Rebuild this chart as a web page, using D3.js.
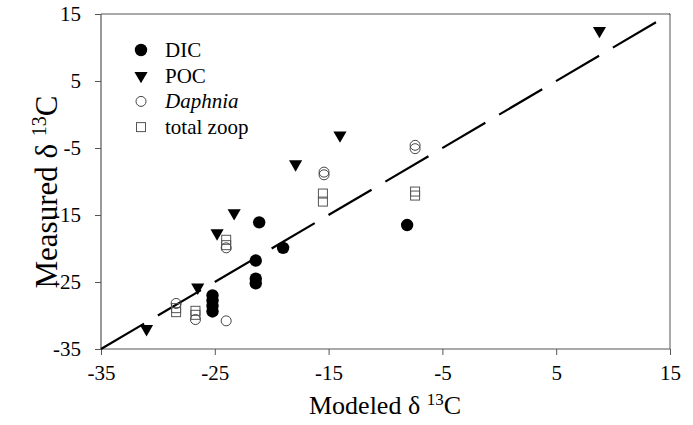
<!DOCTYPE html>
<html><head><meta charset="utf-8">
<script src="https://cdn.jsdelivr.net/npm/d3@7"></script>
<style>body{margin:0;background:#fff}svg{display:block}svg text{font-family:"Liberation Serif","Times New Roman",serif !important;fill:#000}</style>
</head><body>
<svg id="c" width="693" height="425"></svg>
<script>
const xTicks = [-35, -25, -15, -5, 5, 15];
const yTicks = [-35, -25, -15, -5, 5, 15];

const dicX = [-21.1, -19.0, -21.4, -21.4, -21.4, -25.2, -25.2, -25.2, -25.2, -8.1];
const dicY = [-16.1, -19.9, -21.8, -24.5, -25.2, -27.0, -27.8, -28.6, -29.4, -16.5];

const pocX = [-31.0, -26.5, -24.8, -23.3, -17.9, -14.0, 8.8];
const pocY = [-32.0, -25.8, -17.7, -14.7, -7.4, -3.1, 12.5];

const daphX = [-28.4, -26.7, -24.0, -24.0, -15.4, -15.4, -7.4, -7.4];
const daphY = [-28.2, -30.6, -30.8, -19.9, -8.6, -9.0, -4.6, -5.1];

const zoopX = [-28.4, -28.4, -26.7, -26.7, -24.0, -24.0, -15.5, -15.5, -7.4, -7.4];
const zoopY = [-28.9, -29.5, -29.3, -29.9, -18.7, -19.5, -11.8, -13.0, -11.5, -12.1];

const legendNames = ["DIC", "POC", "Daphnia", "total zoop"];
const oneToOne = [-35, 15];

const svg = d3.select("#c");
const x = d3.scaleLinear().domain([-35, 15]).range([101, 670]);
const y = d3.scaleLinear().domain([-35, 15]).range([349, 14]);
const axisCol = "#555";

svg.append("line").attr("x1", x(-35)).attr("x2", x(15)).attr("y1", y(15)).attr("y2", y(15)).attr("stroke", axisCol).attr("stroke-width", 1);
svg.append("line").attr("x1", x(15)).attr("x2", x(15)).attr("y1", y(15)).attr("y2", y(-35)).attr("stroke", axisCol).attr("stroke-width", 1);

const fmt = d => String(d);
const gx = svg.append("g").attr("transform", `translate(0,${y(-35)})`)
  .call(d3.axisBottom(x).tickValues(xTicks).tickSize(6).tickPadding(10).tickFormat(fmt));
const gy = svg.append("g").attr("transform", `translate(${x(-35)},0)`)
  .call(d3.axisLeft(y).tickValues(yTicks).tickSize(6).tickPadding(14).tickFormat(fmt));
[gx, gy].forEach(g => {
  g.attr("font-family", null);
  g.select(".domain").attr("stroke", axisCol).attr("stroke-width", 1.2);
  g.selectAll(".tick line").attr("stroke", axisCol);
  g.selectAll(".tick text").style("font-size", "21px").attr("fill", "#000");
});
gx.select(".domain").attr("d", `M${x(-35)},0H${x(15)}`);
gy.select(".domain").attr("d", `M0,${y(-35)}V${y(15)}`);

svg.append("line")
  .attr("x1", x(oneToOne[0])).attr("y1", y(oneToOne[0]))
  .attr("x2", x(oneToOne[1])).attr("y2", y(oneToOne[1]))
  .attr("stroke", "#000").attr("stroke-width", 2.2).attr("stroke-dasharray", "50,16");

const tri = d3.symbol().type(d3.symbolTriangle).size(75);
function drawMarker(kind, cx, cy, g) {
  if (kind === 0) g.append("circle").attr("cx", cx).attr("cy", cy).attr("r", 6.2).attr("fill", "#000");
  else if (kind === 1) g.append("path").attr("d", tri()).attr("transform", `translate(${cx},${cy}) rotate(180)`).attr("fill", "#000");
  else if (kind === 2) g.append("circle").attr("cx", cx).attr("cy", cy).attr("r", 5).attr("fill", "none").attr("stroke", "#444").attr("stroke-width", 1);
  else g.append("rect").attr("x", cx - 4.5).attr("y", cy - 4.5).attr("width", 9).attr("height", 9).attr("fill", "none").attr("stroke", "#555").attr("stroke-width", 1);
}
function drawSeries(kind, xs, ys, g) {
  xs.forEach((v, i) => drawMarker(kind, x(v), y(ys[i]), g));
}
const pts = svg.append("g");
drawSeries(3, zoopX, zoopY, pts);
drawSeries(2, daphX, daphY, pts);
drawSeries(1, pocX, pocY, pts);
drawSeries(0, dicX, dicY, pts);

const lg = svg.append("g");
legendNames.forEach((n, i) => {
  const ly = 50 + i * 25.7;
  drawMarker(i, 141, ly, lg);
  lg.append("text").attr("x", 165).attr("y", ly + 7).style("font-size", "21px")
    .style("font-style", i === 2 ? "italic" : "normal").text(n);
});

const xt = svg.append("text").attr("x", 385).attr("y", 414).attr("text-anchor", "middle").style("font-size", "26px");
xt.append("tspan").text("Modeled δ ");
xt.append("tspan").style("font-size", "17px").attr("dy", -9).text("13");
xt.append("tspan").attr("dy", 9).text("C");

const yt = svg.append("text").attr("transform", "translate(57,192) rotate(-90)").attr("text-anchor", "middle").style("font-size", "31px");
yt.append("tspan").text("Measured δ ");
yt.append("tspan").style("font-size", "20px").attr("dy", -11).text("13");
yt.append("tspan").attr("dy", 11).text("C");
</script>
</body></html>
